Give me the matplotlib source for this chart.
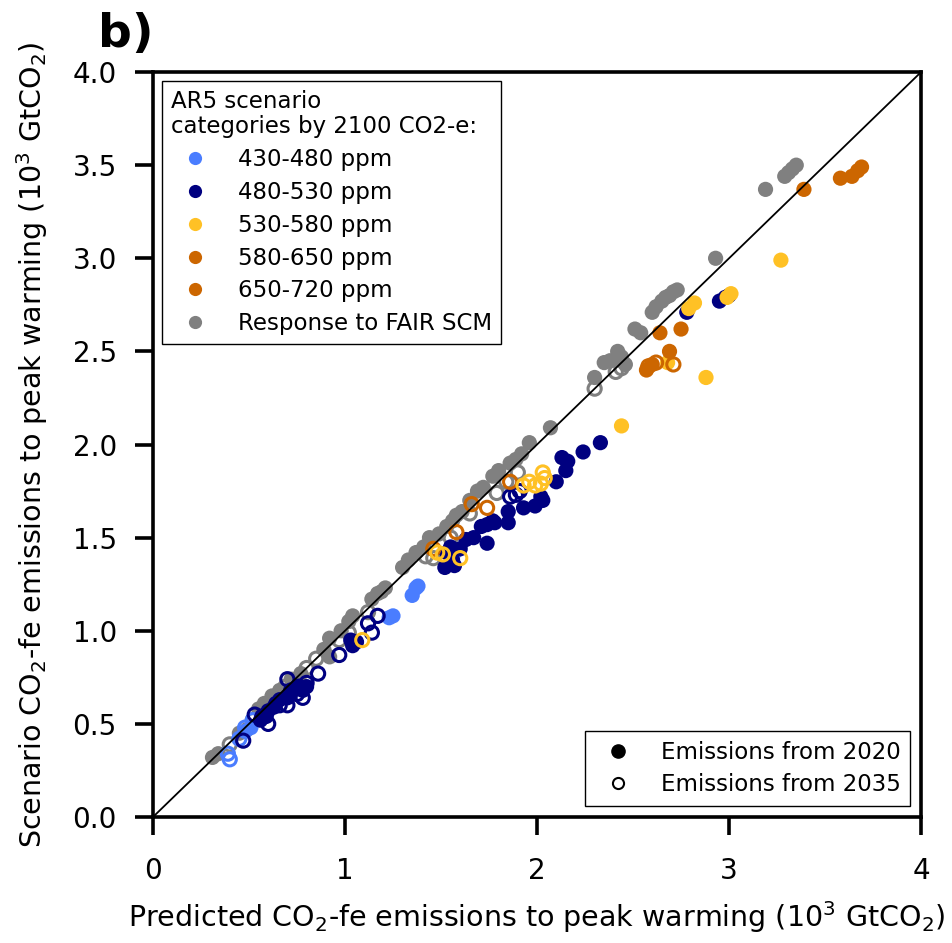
import matplotlib
matplotlib.use("Agg")
import matplotlib.pyplot as plt
from matplotlib.lines import Line2D

# ---------------------------------------------------------------------------
# Data (10^3 GtCO2): predicted (x) vs scenario (y)
# ---------------------------------------------------------------------------
fair_2020_x = [3.19, 3.29, 3.31, 3.33, 3.35, 2.93, 2.73, 2.71, 2.69, 2.67, 2.65, 2.62, 2.60,
               2.51, 2.54, 2.42, 2.44, 2.35, 2.38, 2.46, 2.30, 2.07, 1.96, 1.92, 1.89, 1.86,
               1.80, 1.77, 1.72, 1.69, 1.65, 1.61, 1.58, 1.56, 1.53, 1.49, 1.44, 1.41, 1.37,
               1.33, 1.30, 1.21, 1.19, 1.17, 1.14, 1.04, 1.02, 0.98, 0.92, 0.89, 0.92, 0.77,
               0.72, 0.66, 0.58, 0.55, 0.49, 0.45, 0.31, 0.34, 0.62]
fair_2020_y = [3.37, 3.44, 3.46, 3.48, 3.50, 3.00, 2.83, 2.82, 2.80, 2.79, 2.77, 2.74, 2.71,
               2.62, 2.60, 2.50, 2.47, 2.44, 2.45, 2.43, 2.36, 2.09, 2.01, 1.95, 1.92, 1.90,
               1.86, 1.83, 1.77, 1.75, 1.70, 1.64, 1.62, 1.59, 1.56, 1.52, 1.50, 1.45, 1.42,
               1.38, 1.34, 1.23, 1.21, 1.20, 1.17, 1.08, 1.05, 1.00, 0.96, 0.90, 0.86, 0.77,
               0.74, 0.68, 0.61, 0.58, 0.47, 0.45, 0.32, 0.34, 0.65]
fair_2035_x = [1.02, 0.97, 1.90, 1.79, 1.46, 2.44, 2.41, 1.84, 1.55, 1.42, 0.85, 0.80,
               0.69, 0.62, 0.52, 0.40, 1.12, 1.65, 2.30]
fair_2035_y = [0.99, 0.95, 1.85, 1.74, 1.39, 2.41, 2.39, 1.80, 1.50, 1.40, 0.85, 0.80,
               0.70, 0.62, 0.52, 0.39, 1.10, 1.63, 2.30]

c430_2020_x = [1.25, 1.23, 1.35, 1.37, 1.38, 1.57, 0.51, 0.48]
c430_2020_y = [1.08, 1.07, 1.19, 1.23, 1.24, 1.42, 0.48, 0.46]
c430_2035_x = [0.39, 0.40, 0.45, 0.48, 0.52]
c430_2035_y = [0.34, 0.31, 0.42, 0.48, 0.52]

c480_2020_x = [2.33, 2.24, 2.16, 2.13, 2.15, 2.10, 2.02, 1.99, 1.93, 1.85, 1.85, 1.78, 1.74,
               1.71, 1.67, 1.74, 1.63, 1.60, 1.53, 1.56, 1.52, 1.57, 1.55, 2.03, 1.77,
               2.95, 2.98, 3.00, 2.78, 1.04, 1.06, 1.03, 0.59, 0.64, 0.66, 0.70, 0.71,
               0.75, 0.78, 0.80, 0.63, 0.56, 0.60]
c480_2020_y = [2.01, 1.96, 1.91, 1.93, 1.86, 1.80, 1.72, 1.67, 1.66, 1.64, 1.58, 1.58, 1.57,
               1.56, 1.50, 1.47, 1.49, 1.44, 1.42, 1.38, 1.34, 1.35, 1.45, 1.70, 1.59,
               2.77, 2.79, 2.80, 2.71, 0.92, 0.94, 0.95, 0.54, 0.61, 0.63, 0.64, 0.66,
               0.70, 0.68, 0.70, 0.59, 0.52, 0.57]
c480_2035_x = [1.17, 1.12, 1.14, 0.97, 0.86, 0.70, 0.75, 0.78, 0.70, 0.60, 0.57, 0.47,
               0.53, 0.80, 0.72, 0.66, 1.89, 1.91, 1.86, 0.76]
c480_2035_y = [1.08, 1.04, 0.99, 0.87, 0.77, 0.74, 0.66, 0.64, 0.60, 0.50, 0.54, 0.41,
               0.55, 0.72, 0.68, 0.60, 1.73, 1.75, 1.72, 0.70]

c530_2020_x = [3.27, 2.88, 2.44, 2.82, 2.79, 3.01, 2.99, 2.68]
c530_2020_y = [2.99, 2.36, 2.10, 2.76, 2.73, 2.81, 2.79, 2.44]
c530_2035_x = [1.48, 1.51, 1.60, 1.93, 1.96, 2.02, 2.03, 2.04, 1.09, 1.99]
c530_2035_y = [1.42, 1.41, 1.39, 1.78, 1.80, 1.79, 1.85, 1.82, 0.95, 1.78]

c580_2020_x = [2.64, 2.75, 2.69, 2.57, 2.60]
c580_2020_y = [2.60, 2.62, 2.50, 2.40, 2.43]
c580_2035_x = [1.86, 1.66, 1.74, 1.58, 1.46, 2.62, 2.71, 2.58]
c580_2035_y = [1.80, 1.68, 1.66, 1.53, 1.44, 2.44, 2.43, 2.42]

c650_2020_x = [3.39, 3.58, 3.64, 3.67, 3.69]
c650_2020_y = [3.37, 3.43, 3.44, 3.47, 3.49]

CAT_LABELS = ["430-480 ppm", "480-530 ppm", "530-580 ppm", "580-650 ppm", "650-720 ppm",
              "Response to FAIR SCM"]
CAT_COLORS = ["#4a7dff", "#000080", "#ffc125", "#cc6600", "#cc6600", "#808080"]

# ---------------------------------------------------------------------------
fig = plt.figure(figsize=(9.53, 9.43), dpi=100)
ax = fig.add_axes([0.1605, 0.1336, 0.806, 0.79])

S = 120
LW_OPEN = 2.2


def filled(x, y, c):
    ax.scatter(x, y, s=S, color=c, edgecolors="none", zorder=3)


def hollow(x, y, c):
    ax.scatter(x, y, s=S * 0.75, facecolors="none", edgecolors=c, linewidths=LW_OPEN, zorder=3)


filled(fair_2020_x, fair_2020_y, CAT_COLORS[5])
hollow(fair_2035_x, fair_2035_y, CAT_COLORS[5])
filled(c430_2020_x, c430_2020_y, CAT_COLORS[0])
hollow(c430_2035_x, c430_2035_y, CAT_COLORS[0])
filled(c480_2020_x, c480_2020_y, CAT_COLORS[1])
hollow(c480_2035_x, c480_2035_y, CAT_COLORS[1])
filled(c530_2020_x, c530_2020_y, CAT_COLORS[2])
filled(c580_2020_x, c580_2020_y, CAT_COLORS[3])
filled(c650_2020_x, c650_2020_y, CAT_COLORS[4])
hollow(c580_2035_x, c580_2035_y, CAT_COLORS[3])
hollow(c530_2035_x, c530_2035_y, CAT_COLORS[2])

ax.plot([0, 4], [0, 4], color="black", lw=1.3, zorder=4)

ax.set_xlim(0, 4)
ax.set_ylim(0, 4)
ax.set_xticks([0, 1, 2, 3, 4])
ax.set_yticks([0.0, 0.5, 1.0, 1.5, 2.0, 2.5, 3.0, 3.5, 4.0])
ax.set_yticklabels(["0.0", "0.5", "1.0", "1.5", "2.0", "2.5", "3.0", "3.5", "4.0"])
ax.tick_params(direction="out", length=13, width=2.6, labelsize=20)
ax.tick_params(axis="x", pad=16)
ax.tick_params(axis="y", pad=13)
for sp in ax.spines.values():
    sp.set_linewidth(2.6)

ax.set_xlabel(r"Predicted CO$_2$-fe emissions to peak warming (10$^3$ GtCO$_2$)",
              fontsize=20.5, labelpad=10)
ax.set_ylabel(r"Scenario CO$_2$-fe emissions to peak warming (10$^3$ GtCO$_2$)",
              fontsize=20.5, labelpad=16)

fig.text(0.103, 0.94, "b)", fontsize=34, fontweight="bold", ha="left", va="bottom")

# category legend
handles = [Line2D([], [], ls="none", marker="o", ms=9.5, color=c, markeredgewidth=0)
           for c in CAT_COLORS]
leg1 = ax.legend(handles, CAT_LABELS, loc="upper left", fontsize=16.5,
                 title="AR5 scenario\ncategories by 2100 CO2-e:", title_fontsize=16.5,
                 alignment="left", fancybox=False, edgecolor="black", framealpha=1,
                 handlelength=2.1, handletextpad=0.8, labelspacing=0.43,
                 borderaxespad=0.4, borderpad=0.4)
leg1.get_frame().set_linewidth(1.0)
leg1.get_title().set_linespacing(1.1)
ax.add_artist(leg1)

# emissions start legend
h2 = [Line2D([], [], ls="none", marker="o", ms=9.5, color="black"),
      Line2D([], [], ls="none", marker="o", ms=8, markerfacecolor="none",
             markeredgecolor="black", markeredgewidth=1.5)]
leg2 = ax.legend(h2, ["Emissions from 2020", "Emissions from 2035"], loc="lower right",
                 fontsize=16.5, fancybox=False, edgecolor="black", framealpha=1,
                 handlelength=2.1, handletextpad=0.8, labelspacing=0.43,
                 borderaxespad=0.5, borderpad=0.4)
leg2.get_frame().set_linewidth(1.0)

fig.savefig("out.png", dpi=100)
